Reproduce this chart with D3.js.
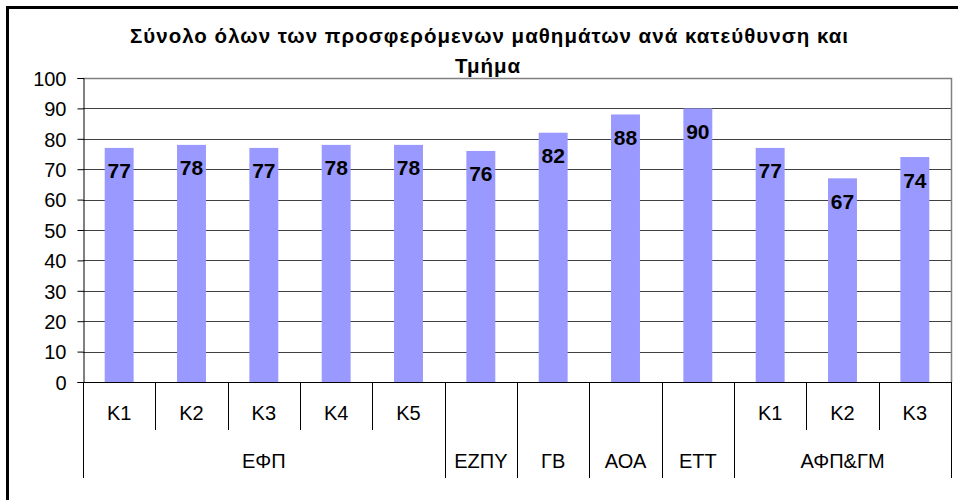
<!DOCTYPE html>
<html><head><meta charset="utf-8">
<script src="https://cdn.jsdelivr.net/npm/d3@7"></script>
<style>
html,body{margin:0;padding:0;background:#fff;overflow:hidden}
text{font-family:"Liberation Sans",Arial,sans-serif}
</style></head>
<body>
<svg id="c" width="958" height="500"></svg>
<script>
const titleLines = ["Σύνολο όλων των προσφερόμενων μαθημάτων ανά κατεύθυνση και", "Τμήμα"];
const categories = ["Κ1","Κ2","Κ3","Κ4","Κ5","","","","","Κ1","Κ2","Κ3"];
const groups = ["ΕΦΠ","ΕΦΠ","ΕΦΠ","ΕΦΠ","ΕΦΠ","ΕΖΠΥ","ΓΒ","ΑΟΑ","ΕΤΤ","ΑΦΠ&ΓΜ","ΑΦΠ&ΓΜ","ΑΦΠ&ΓΜ"];
const values = [77,78,77,78,78,76,82,88,90,77,67,74];
const yTicks = [0,10,20,30,40,50,60,70,80,90,100];

(function(){
const svg = d3.select("#c");
const pL = 83, pR = 951, pT = 78, pB = 382;
const idx = d3.range(values.length);
const x = d3.scaleBand().domain(idx).range([pL, pR]).paddingInner(0.6).paddingOuter(0.3);
const y = d3.scaleLinear().domain([0, 100]).range([pB, pT]);

// outer frame
svg.append("rect").attr("x",7.5).attr("y",7.5).attr("width",1000).attr("height",1000)
  .attr("fill","none").attr("stroke","#000").attr("stroke-width",3);

// title
const t = svg.append("g").attr("font-weight","bold").attr("font-size",20.5).attr("text-anchor","middle");
t.append("text").attr("x",489).attr("y",43).attr("textLength",718).attr("lengthAdjust","spacing").text(titleLines[0]);

// gridlines
svg.append("g").selectAll("line").data(yTicks.filter(d=>d>0 && d<100)).join("line")
  .attr("x1",pL).attr("x2",pR).attr("y1",d=>Math.round(y(d))+0.5).attr("y2",d=>Math.round(y(d))+0.5)
  .attr("stroke","#404040").attr("stroke-width",1);

// bars
svg.append("g").selectAll("rect").data(idx).join("rect")
  .attr("x",i=>x(i)).attr("width",x.bandwidth())
  .attr("y",i=>y(values[i])).attr("height",i=>y(0)-y(values[i]))
  .attr("fill","#9999FF");

// second title line (sits just above the plot border)
t.append("text").attr("x",487.5).attr("y",73).attr("textLength",65).attr("lengthAdjust","spacing").text(titleLines[1]);

// plot border top/right
svg.append("path").attr("d",`M${pL},${pT+0.5}H${pR+0.5}V${pB}`)
  .attr("fill","none").attr("stroke","#808080").attr("stroke-width",1.5);

// y axis
const ya = d3.axisLeft(y).tickValues(yTicks).tickSize(6).tickPadding(11);
const yg = svg.append("g").attr("transform",`translate(${pL+0.5},0)`).call(ya);
yg.select(".domain").attr("stroke","#000");
yg.selectAll(".tick line").attr("stroke","#000");
yg.selectAll(".tick text").attr("font-size",20).attr("fill","#000")
  .attr("font-family","'Liberation Sans',Arial,sans-serif").attr("dy","0.36em");

// x axis line
svg.append("line").attr("x1",pL).attr("x2",pR+1).attr("y1",pB+0.5).attr("y2",pB+0.5)
  .attr("stroke","#000").attr("stroke-width",1);

// category dividers
const step = x.step();
const xb = i => i===0 ? pL : (i===values.length ? pR : x(i) - x.paddingInner()*step/2);
const divs = svg.append("g").attr("stroke","#000").attr("stroke-width",1);
for (let i=0;i<=values.length;i++){
  const isGroupEdge = i===0 || i===values.length || groups[i]!==groups[i-1] || categories[i]==="" || categories[i-1]==="";
  const xx = Math.round(xb(i))+0.5;
  divs.append("line").attr("x1",xx).attr("x2",xx).attr("y1",pB).attr("y2",isGroupEdge?478:430);
}

// category labels
svg.append("g").attr("font-size",20).attr("text-anchor","middle").selectAll("text").data(idx.filter(i=>categories[i]!=="")).join("text")
  .attr("x",i=>x(i)+x.bandwidth()/2).attr("y",420).text(i=>categories[i]);

// group labels
const groupList = [];
idx.forEach(i=>{ const g=groupList[groupList.length-1]; if(g && g.name===groups[i]) g.end=i; else groupList.push({name:groups[i],start:i,end:i}); });
svg.append("g").attr("font-size",20).attr("text-anchor","middle").selectAll("text").data(groupList).join("text")
  .attr("x",g=>(xb(g.start)+xb(g.end+1))/2).attr("y",468).text(g=>g.name);

// data labels
svg.append("g").attr("font-size",21).attr("font-weight","bold").attr("text-anchor","middle").selectAll("text").data(idx).join("text")
  .attr("x",i=>x(i)+x.bandwidth()/2).attr("y",i=>y(values[i])+30.5).text(i=>values[i]);
})();
</script>
</body></html>
